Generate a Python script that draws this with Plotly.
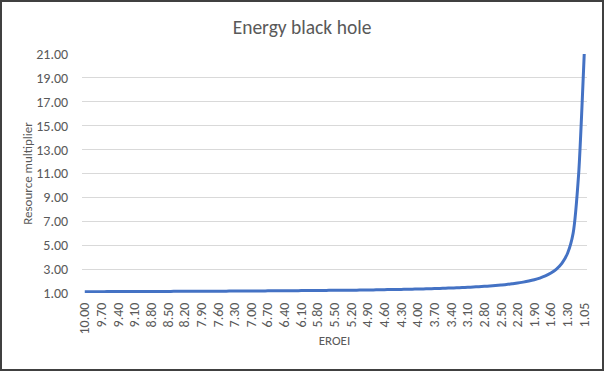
import plotly.graph_objects as go

eroei = ["10.00", "9.90", "9.80", "9.70", "9.60", "9.50", "9.40", "9.30", "9.20", "9.10",
         "9.00", "8.90", "8.80", "8.70", "8.60", "8.50", "8.40", "8.30", "8.20", "8.10",
         "8.00", "7.90", "7.80", "7.70", "7.60", "7.50", "7.40", "7.30", "7.20", "7.10",
         "7.00", "6.90", "6.80", "6.70", "6.60", "6.50", "6.40", "6.30", "6.20", "6.10",
         "6.00", "5.90", "5.80", "5.70", "5.60", "5.50", "5.40", "5.30", "5.20", "5.10",
         "5.00", "4.90", "4.80", "4.70", "4.60", "4.50", "4.40", "4.30", "4.20", "4.10",
         "4.00", "3.90", "3.80", "3.70", "3.60", "3.50", "3.40", "3.30", "3.20", "3.10",
         "3.00", "2.90", "2.80", "2.70", "2.60", "2.50", "2.40", "2.30", "2.20", "2.10",
         "2.00", "1.90", "1.80", "1.70", "1.60", "1.50", "1.40", "1.30", "1.20", "1.10",
         "1.05"]

multiplier = [1.11, 1.11, 1.11, 1.11, 1.12, 1.12, 1.12, 1.12, 1.12, 1.12,
              1.13, 1.13, 1.13, 1.13, 1.13, 1.13, 1.14, 1.14, 1.14, 1.14,
              1.14, 1.14, 1.15, 1.15, 1.15, 1.15, 1.16, 1.16, 1.16, 1.16,
              1.17, 1.17, 1.17, 1.18, 1.18, 1.18, 1.19, 1.19, 1.19, 1.20,
              1.20, 1.20, 1.21, 1.21, 1.22, 1.22, 1.23, 1.23, 1.24, 1.24,
              1.25, 1.26, 1.26, 1.27, 1.28, 1.29, 1.29, 1.30, 1.31, 1.32,
              1.33, 1.34, 1.36, 1.37, 1.38, 1.40, 1.42, 1.43, 1.45, 1.48,
              1.50, 1.53, 1.56, 1.59, 1.63, 1.67, 1.71, 1.77, 1.83, 1.91,
              2.00, 2.11, 2.25, 2.43, 2.67, 3.00, 3.50, 4.33, 6.00, 11.00,
              21.00]

tick_labels = eroei[::3]
y_ticks = [1, 3, 5, 7, 9, 11, 13, 15, 17, 19, 21]

W, H = 604, 371
L, R, T, B = 82, 17, 54, 78
pw, ph = W - L - R, H - T - B

font = "Calibri, Carlito, Liberation Sans, Arial, sans-serif"
grey = "#595959"

fig = go.Figure()
fig.add_trace(go.Scatter(
    x=eroei, y=multiplier, mode="lines",
    line=dict(color="#4472C4", width=3, shape="spline", smoothing=0.6),
    showlegend=False, hoverinfo="x+y",
))

fig.update_layout(
    width=W, height=H,
    margin=dict(l=L, r=R, t=T, b=B),
    paper_bgcolor="white", plot_bgcolor="white",
    font=dict(family=font, color=grey, size=14),
    title=dict(text="Energy black hole", x=0.5, xanchor="center",
               y=1 - 27 / H, yanchor="middle", yref="container",
               font=dict(family=font, size=19.5, color=grey)),
    xaxis=dict(
        type="category", range=[-0.5, len(eroei) - 0.5],
        tickmode="array", tickvals=tick_labels, ticktext=tick_labels,
        tickangle=-90, tickfont=dict(size=14, color=grey),
        showgrid=False, zeroline=False, showline=False,
        ticks="outside", ticklen=3, tickcolor="rgba(0,0,0,0)",
        title=dict(text="EROEI", font=dict(size=13, color=grey), standoff=2),
    ),
    yaxis=dict(
        range=[1, 21], tickmode="array", tickvals=y_ticks,
        tickformat=".2f", tickfont=dict(size=14, color=grey),
        showgrid=True, gridcolor="#D9D9D9", gridwidth=1,
        zeroline=False, showline=False,
        ticks="outside", ticklen=10, tickcolor="rgba(0,0,0,0)",
        title=dict(text="Resource multiplier", font=dict(size=13, color=grey), standoff=0),
    ),
    shapes=[dict(
        type="rect", xref="paper", yref="paper",
        x0=-(L - 1) / pw, x1=1 + (R - 1) / pw,
        y0=-(B - 1) / ph, y1=1 + (T - 1) / ph,
        line=dict(color="#404040", width=2), fillcolor="rgba(0,0,0,0)",
        layer="below",
    )],
)

fig.write_html(
    "out.html",
    config={"displayModeBar": False},
    post_script="document.body.style.margin='0';document.body.style.overflow='hidden';",
)
